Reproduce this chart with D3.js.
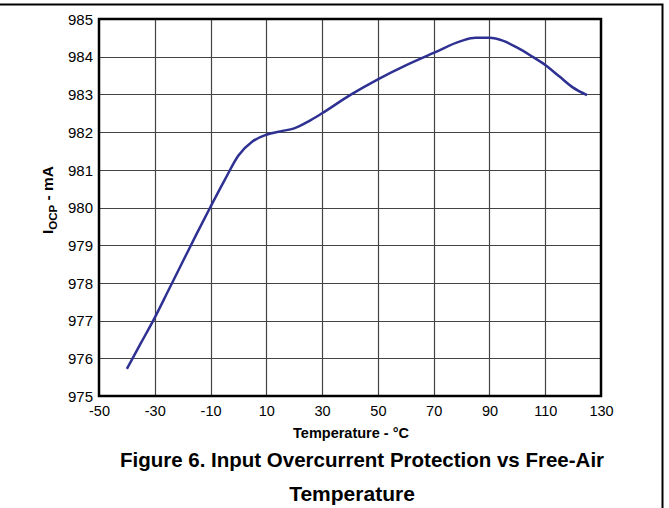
<!DOCTYPE html>
<html><head><meta charset="utf-8">
<script src="https://cdn.jsdelivr.net/npm/d3@7"></script>
<style>body{margin:0;background:#fff}svg{display:block}text{font-family:"Liberation Sans",Arial,sans-serif;fill:#000}</style>
</head><body>
<svg id="c" width="669" height="508"></svg>
<script>
const temps = [-40,-35,-30,-25,-20,-15,-10,-5,0,5,10,15,20,25,30,40,50,60,70,80,85,90,95,100,105,110,115,120,125];
const iocp  = [975.72,976.4,977.08,977.82,978.56,979.3,980.02,980.72,981.38,981.75,981.93,982.02,982.1,982.28,982.5,982.98,983.4,983.77,984.1,984.42,984.5,984.5,984.42,984.24,984.02,983.78,983.48,983.18,982.98];
const xTicks = [-50,-30,-10,10,30,50,70,90,110,130];
const yTicks = [975,976,977,978,979,980,981,982,983,984,985];

const svg = d3.select("#c");
const L=99, R=601, T=19, B=396;
const x = d3.scaleLinear().domain([-50,130]).range([L,R]);
const y = d3.scaleLinear().domain([975,985]).range([B,T]);

// outer frame
svg.append("path").attr("d","M0,4.5H662.5V508").attr("fill","none").attr("stroke","#000").attr("stroke-width",2);

// grid
svg.append("g").selectAll("line").data(xTicks.slice(1,-1)).join("line")
  .attr("x1",d=>Math.round(x(d))+0.5).attr("x2",d=>Math.round(x(d))+0.5).attr("y1",T).attr("y2",B)
  .attr("stroke","#444").attr("stroke-width",1.2);
svg.append("g").selectAll("line").data(yTicks.slice(1,-1)).join("line")
  .attr("y1",d=>Math.round(y(d))+0.5).attr("y2",d=>Math.round(y(d))+0.5).attr("x1",L).attr("x2",R)
  .attr("stroke","#444").attr("stroke-width",1.2);

// plot border
svg.append("rect").attr("x",L).attr("y",T).attr("width",R-L).attr("height",B-T)
  .attr("fill","none").attr("stroke","#000").attr("stroke-width",2.5);

// axes labels via d3 axes (domain/ticks hidden)
const xa = svg.append("g").attr("transform",`translate(0,${B+7})`).call(d3.axisBottom(x).tickValues(xTicks).tickSize(0).tickFormat(d=>String(d)));
xa.select(".domain").remove();
xa.selectAll("text").attr("font-size",14.5).attr("font-family","Liberation Sans, Arial, sans-serif").attr("fill","#000");
const ya = svg.append("g").attr("transform",`translate(${L-3},0)`).call(d3.axisLeft(y).tickValues(yTicks).tickSize(0).tickFormat(d=>String(d)));
ya.select(".domain").remove();
ya.selectAll("text").attr("font-size",15).attr("font-family","Liberation Sans, Arial, sans-serif").attr("fill","#000").attr("dy","0.35em");

// curve
svg.append("path").datum(temps.map((t,i)=>[t,iocp[i]]))
  .attr("d",d3.line().x(d=>x(d[0])).y(d=>y(d[1])).curve(d3.curveMonotoneX))
  .attr("fill","none").attr("stroke","#2e3192").attr("stroke-width",2.5);

// axis titles
svg.append("text").attr("x",351).attr("y",438).attr("text-anchor","middle")
  .attr("font-size",14.5).attr("font-weight","bold").text("Temperature - °C");
const yt = svg.append("text").attr("transform","translate(53,200) rotate(-90)").attr("text-anchor","middle")
  .attr("font-size",15.5).attr("font-weight","bold");
yt.append("tspan").text("I");
yt.append("tspan").attr("font-size",11.5).attr("dy",3.5).text("OCP");
yt.append("tspan").attr("dy",-3.5).text(" - mA");

// caption
svg.append("text").attr("x",362).attr("y",467).attr("text-anchor","middle")
  .attr("font-size",20.5).attr("font-weight","bold").text("Figure 6. Input Overcurrent Protection vs Free-Air");
svg.append("text").attr("x",352).attr("y",501).attr("text-anchor","middle")
  .attr("font-size",21).attr("font-weight","bold").text("Temperature");
</script>
</body></html>
